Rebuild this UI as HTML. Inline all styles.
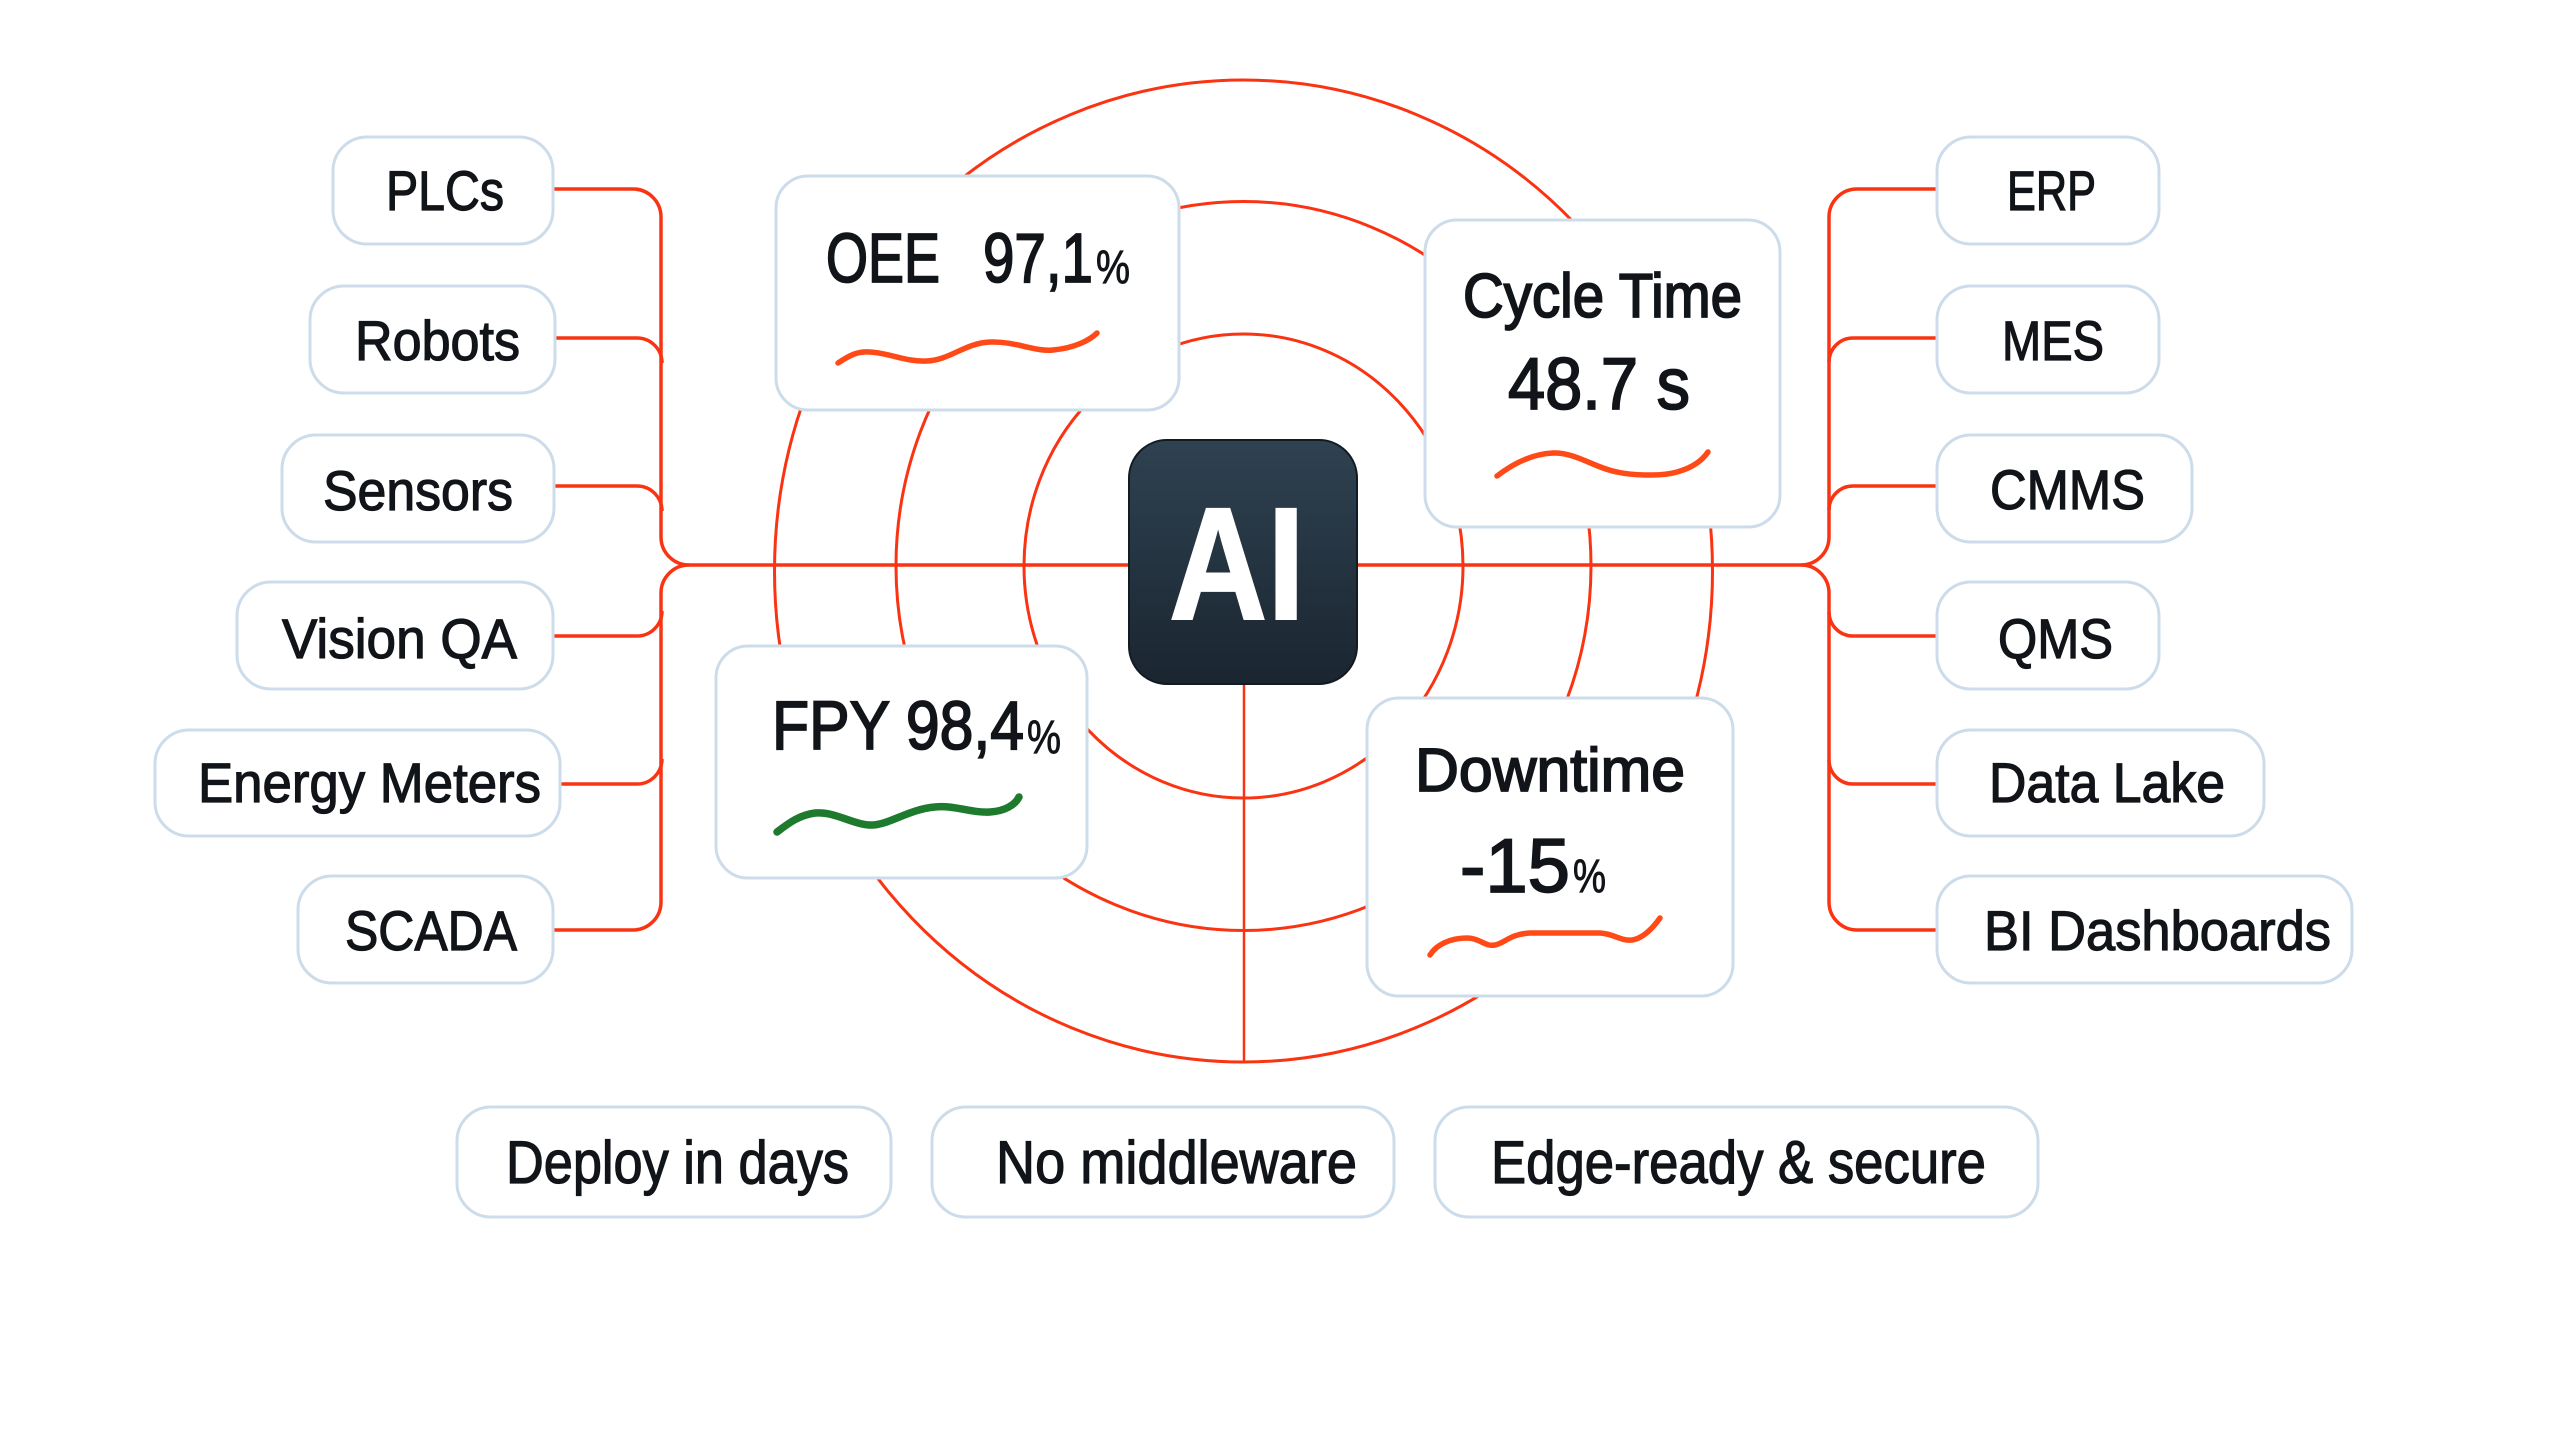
<!DOCTYPE html>
<html>
<head>
<meta charset="utf-8">
<style>
  html, body { margin: 0; padding: 0; background: #ffffff; }
  svg { display: block; }
  text { font-family: "Liberation Sans", "DejaVu Sans", sans-serif; fill: #111418; }
</style>
</head>
<body>
<svg width="2560" height="1447" viewBox="0 0 2560 1447" xmlns="http://www.w3.org/2000/svg">
  <defs>
    <linearGradient id="aig" x1="0" y1="0" x2="0" y2="1">
      <stop offset="0" stop-color="#2f4251"/>
      <stop offset="1" stop-color="#1a2530"/>
    </linearGradient>
  </defs>
  <rect width="2560" height="1447" fill="#ffffff"/>

  <!-- concentric ellipses -->
  <g fill="none" stroke="#fa3413" stroke-width="3">
    <ellipse cx="1243.5" cy="571" rx="469" ry="491"/>
    <ellipse cx="1243.5" cy="566" rx="347.5" ry="364.5"/>
    <ellipse cx="1243.5" cy="566" rx="219.5" ry="232"/>
  </g>

  <!-- center vertical line -->
  <line x1="1244" y1="684" x2="1244" y2="1062" stroke="#fa3413" stroke-width="2.5"/>

  <!-- connector trees -->
  <g fill="none" stroke="#fa3413" stroke-width="3.5">
    <path d="M553,189 H633 A28,28 0 0 1 661,217 V537 A28,28 0 0 0 689,565 H1130"/>
    <path d="M689,565 A28,28 0 0 0 661,593 V902 A28,28 0 0 1 633,930 H553"/>
    <path d="M555,338 H637 A25,25 0 0 1 662,363"/>
    <path d="M554,486 H637 A25,25 0 0 1 662,511"/>
    <path d="M553,636 H637 A25,25 0 0 0 662,611"/>
    <path d="M560,784 H637 A25,25 0 0 0 662,759"/>
    <path d="M1356,565 H1801 A28,28 0 0 0 1829,537 V217 A28,28 0 0 1 1857,189 H1937"/>
    <path d="M1801,565 A28,28 0 0 1 1829,593 V902 A28,28 0 0 0 1857,930 H1937"/>
    <path d="M1937,338 H1853 A24,24 0 0 0 1829,362"/>
    <path d="M1937,486 H1853 A24,24 0 0 0 1829,510"/>
    <path d="M1937,636 H1853 A24,24 0 0 1 1829,612"/>
    <path d="M1937,784 H1853 A24,24 0 0 1 1829,760"/>
  </g>

  <!-- pill boxes -->
  <g fill="#ffffff" stroke="#cddcea" stroke-width="3">
    <rect x="333" y="137" width="220" height="107" rx="34"/>
    <rect x="310" y="286" width="245" height="107" rx="34"/>
    <rect x="282" y="435" width="272" height="107" rx="34"/>
    <rect x="237" y="582" width="316" height="107" rx="34"/>
    <rect x="155" y="730" width="405" height="106" rx="34"/>
    <rect x="298" y="876" width="255" height="107" rx="34"/>

    <rect x="1937" y="137" width="222" height="107" rx="34"/>
    <rect x="1937" y="286" width="222" height="107" rx="34"/>
    <rect x="1937" y="435" width="255" height="107" rx="34"/>
    <rect x="1937" y="582" width="222" height="107" rx="34"/>
    <rect x="1937" y="730" width="327" height="106" rx="34"/>
    <rect x="1937" y="876" width="415" height="107" rx="34"/>

    <rect x="457" y="1107" width="434" height="110" rx="34"/>
    <rect x="932" y="1107" width="462" height="110" rx="34"/>
    <rect x="1435" y="1107" width="603" height="110" rx="34"/>

    <rect x="776" y="176" width="403" height="234" rx="32"/>
    <rect x="1425" y="220" width="355" height="307" rx="32"/>
    <rect x="716" y="646" width="371" height="232" rx="32"/>
    <rect x="1367" y="698" width="366" height="298" rx="32"/>
  </g>

  <!-- pill labels -->
  <g font-size="56" stroke="#111418" stroke-width="1.2">
    <text x="386" y="210" textLength="118" lengthAdjust="spacingAndGlyphs">PLCs</text>
    <text x="355" y="360" textLength="165" lengthAdjust="spacingAndGlyphs">Robots</text>
    <text x="323" y="510" textLength="190" lengthAdjust="spacingAndGlyphs">Sensors</text>
    <text x="282" y="658" textLength="235" lengthAdjust="spacingAndGlyphs">Vision QA</text>
    <text x="198" y="802" textLength="343" lengthAdjust="spacingAndGlyphs">Energy Meters</text>
    <text x="345" y="950" textLength="172" lengthAdjust="spacingAndGlyphs">SCADA</text>

    <text x="2007" y="210" textLength="89" lengthAdjust="spacingAndGlyphs">ERP</text>
    <text x="2002" y="360" textLength="102" lengthAdjust="spacingAndGlyphs">MES</text>
    <text x="1990" y="509" textLength="155" lengthAdjust="spacingAndGlyphs">CMMS</text>
    <text x="1998" y="658" textLength="115" lengthAdjust="spacingAndGlyphs">QMS</text>
    <text x="1989" y="802" textLength="236" lengthAdjust="spacingAndGlyphs">Data Lake</text>
    <text x="1984" y="950" textLength="347" lengthAdjust="spacingAndGlyphs">BI Dashboards</text>
  </g>
  <g font-size="60" stroke="#111418" stroke-width="1.2">
    <text x="506" y="1183" textLength="343" lengthAdjust="spacingAndGlyphs">Deploy in days</text>
    <text x="996" y="1183" textLength="361" lengthAdjust="spacingAndGlyphs">No middleware</text>
    <text x="1491" y="1183" textLength="495" lengthAdjust="spacingAndGlyphs">Edge-ready &amp; secure</text>
  </g>

  <!-- metric texts -->
  <g stroke="#111418" stroke-width="1.8">
    <text x="826" y="282" font-size="70" textLength="114" lengthAdjust="spacingAndGlyphs">OEE</text>
    <text x="983" y="282" font-size="70" textLength="110" lengthAdjust="spacingAndGlyphs">97,1</text>
    <text x="1096" y="283" font-size="47" stroke-width="0.9" textLength="34" lengthAdjust="spacingAndGlyphs">%</text>

    <text x="1463" y="317" font-size="62" textLength="279" lengthAdjust="spacingAndGlyphs">Cycle Time</text>
    <text x="1508" y="409" font-size="73" textLength="182" lengthAdjust="spacingAndGlyphs">48.7 s</text>

    <text x="772" y="749" font-size="69" textLength="252" lengthAdjust="spacingAndGlyphs">FPY 98,4</text>
    <text x="1027" y="753" font-size="47" stroke-width="0.9" textLength="34" lengthAdjust="spacingAndGlyphs">%</text>

    <text x="1460" y="892" font-size="76" textLength="110" lengthAdjust="spacingAndGlyphs">-15</text>
    <text x="1415" y="791" font-size="61" textLength="270" lengthAdjust="spacingAndGlyphs">Downtime</text>
    <text x="1573" y="892" font-size="47" stroke-width="0.9" textLength="33" lengthAdjust="spacingAndGlyphs">%</text>
  </g>

  <!-- squiggles -->
  <g fill="none" stroke-linecap="round" stroke-linejoin="round">
    <path d="M838,363 C850,355 858,351 870,352 C890,353 905,362 927,361 C950,360 965,343 990,342 C1015,341 1035,352 1053,350 C1075,348 1090,340 1097,333" stroke="#ff4a17" stroke-width="5.5"/>
    <path d="M1497,476 C1510,466 1530,454 1553,453 C1575,452 1595,468 1617,472 C1630,475 1660,477 1677,472 C1695,467 1703,459 1708,452" stroke="#ff4a17" stroke-width="5.5"/>
    <path d="M777,832 C790,822 800,815 815,813 C835,811 855,826 873,825 C890,824 910,809 935,807 C955,805 970,813 990,812 C1005,811 1015,805 1019,797" stroke="#1e7a2c" stroke-width="7.5"/>
    <path d="M1430,955 C1436,945 1450,938 1467,938 C1480,938 1485,947 1495,945 C1505,943 1510,934 1530,933 L1600,933 C1615,934 1620,941 1632,940 C1645,938 1655,925 1660,918" stroke="#ff4a17" stroke-width="5.5"/>
  </g>

  <!-- AI box -->
  <rect x="1129" y="440" width="228" height="244" rx="38" fill="url(#aig)" stroke="#121a22" stroke-width="2"/>
  <text x="1169" y="619" font-size="160" font-weight="bold" stroke="#ffffff" stroke-width="2" textLength="136" lengthAdjust="spacingAndGlyphs" style="fill:#ffffff">AI</text>
</svg>
</body>
</html>
